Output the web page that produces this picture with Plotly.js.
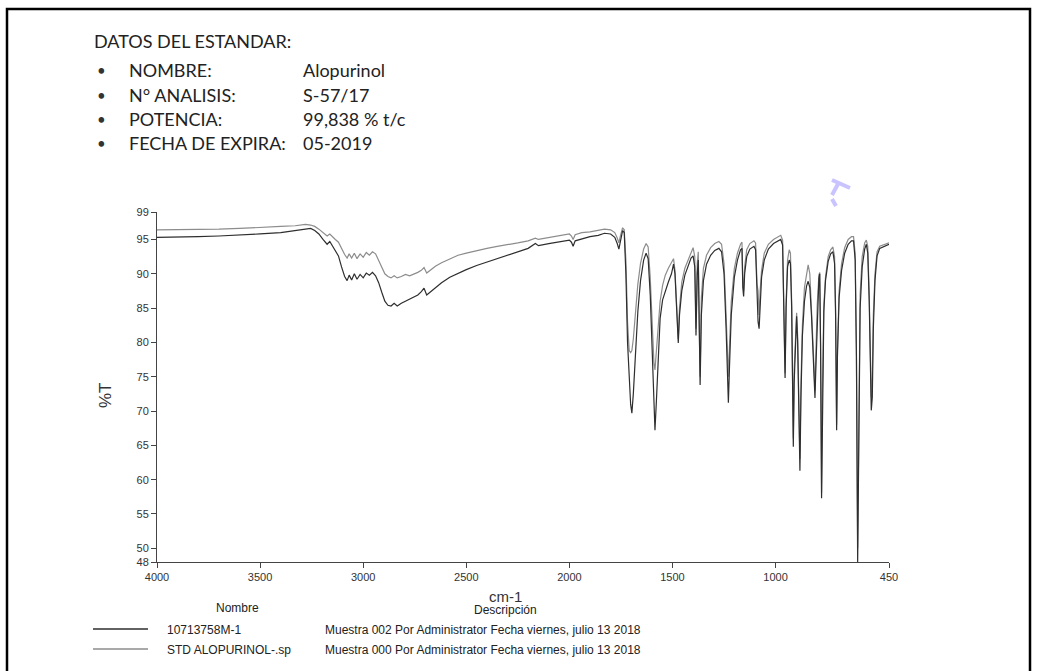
<!DOCTYPE html>
<html><head><meta charset="utf-8">
<script src="https://cdn.plot.ly/plotly-3.0.1.min.js"></script>
<style>html,body{margin:0;padding:0;background:#fff;}#chart{width:1037px;height:671px;}</style>
</head><body><div id="chart"></div>
<script>
const wavenumber = [4000,3900,3800,3700,3600,3500,3400,3330,3280,3255,3235,3215,3195,3175,3162,3150,3135,3120,3105,3090,3078,3068,3056,3043,3030,3015,3000,2985,2970,2955,2940,2925,2910,2895,2880,2865,2850,2835,2815,2795,2775,2755,2735,2718,2705,2692,2675,2650,2620,2580,2540,2500,2450,2400,2350,2300,2250,2200,2165,2150,2100,2050,2000,1990,1982,1972,1940,1900,1860,1830,1800,1780,1768,1760,1752,1742,1734,1726,1718,1710,1703,1697,1690,1680,1668,1655,1640,1628,1618,1608,1598,1590,1585,1578,1570,1560,1548,1535,1520,1505,1495,1488,1480,1472,1466,1455,1440,1425,1410,1400,1392,1386,1380,1375,1370,1366,1360,1350,1335,1315,1295,1275,1262,1250,1240,1233,1229,1224,1215,1200,1185,1170,1163,1159,1155,1150,1140,1125,1105,1097,1090,1085,1080,1075,1068,1055,1035,1010,990,975,966,960,954,949,942,934,928,922,917,914,910,903,898,893,887,882,877,870,860,850,842,834,826,818,812,809,805,798,790,786,782,777,773,766,758,745,733,722,714,709,704,700,692,680,665,648,632,622,614,608,602,597,590,580,568,560,553,546,540,536,531,526,518,508,495,475,460,450];
const sampleT = [95.3,95.3,95.4,95.5,95.6,95.8,96.0,96.3,96.6,96.6,96.3,95.8,95.0,94.3,94.7,94.1,93.5,92.6,91.0,89.6,89.0,89.8,89.1,90.0,89.2,89.9,89.4,90.1,89.8,90.2,89.7,88.7,87.3,86.0,85.4,85.3,85.7,85.3,85.7,86.0,86.2,86.5,86.9,87.4,87.9,86.9,87.3,88.0,88.7,89.5,90.1,90.6,91.2,91.7,92.2,92.6,93.1,93.7,94.4,94.1,94.4,94.7,94.9,94.6,94.0,94.8,95.1,95.4,95.6,95.9,95.8,95.3,94.4,93.6,94.8,96.3,96.0,90.0,80.0,74.0,71.0,69.7,72.5,78.0,84.5,89.0,92.0,93.0,92.2,87.0,78.0,70.5,67.2,71.5,78.0,83.5,86.2,87.5,88.8,90.0,91.4,90.0,84.0,79.9,84.0,87.5,89.8,91.2,92.3,92.6,91.0,81.0,90.0,92.0,80.0,73.8,84.0,89.0,91.4,92.7,93.4,93.7,93.2,90.0,82.0,74.0,71.2,76.0,84.0,89.5,92.0,93.5,93.7,88.0,86.7,90.0,92.5,93.6,94.0,93.5,87.0,83.0,82.0,86.0,89.5,92.0,93.6,94.4,94.8,95.0,94.2,85.0,74.8,85.0,91.0,92.0,91.5,85.0,72.0,64.8,74.0,81.5,83.8,80.0,70.0,61.3,72.0,81.0,86.0,88.2,88.9,88.0,84.0,78.0,73.5,71.9,76.0,84.0,89.3,90.0,80.0,57.3,72.0,84.5,89.0,91.8,92.9,93.2,91.5,84.0,67.2,78.0,86.5,90.5,93.0,94.3,94.8,94.8,92.0,78.0,48.0,70.0,85.0,91.0,93.6,94.3,93.0,86.0,76.0,70.1,72.0,82.0,89.0,92.6,93.7,94.0,94.2,94.3];
const stdT = [96.4,96.4,96.5,96.5,96.6,96.7,96.9,97.0,97.2,97.1,96.9,96.5,96.0,95.5,95.8,95.4,95.0,94.6,93.6,92.8,92.3,92.9,92.3,93.0,92.2,92.9,92.4,93.1,92.7,93.2,92.9,92.0,90.9,90.0,89.6,89.4,89.7,89.4,89.6,89.9,89.7,89.9,90.2,90.5,90.9,90.1,90.5,91.1,91.6,92.2,92.7,93.0,93.4,93.7,94.0,94.2,94.5,94.8,95.2,95.0,95.3,95.6,95.8,95.5,95.0,95.7,96.0,96.1,96.3,96.5,96.4,96.0,95.2,94.5,95.6,96.7,96.4,92.0,83.0,78.8,78.5,78.8,80.5,84.0,88.5,91.5,93.6,94.4,93.9,89.5,82.0,77.0,76.0,78.5,82.5,86.0,88.3,89.8,90.8,91.6,92.2,90.5,84.5,80.5,85.0,88.8,90.8,92.0,93.2,93.8,92.5,82.0,91.5,93.2,82.0,75.0,86.5,90.8,92.7,93.8,94.4,94.7,94.3,91.5,84.0,77.0,75.0,79.0,86.0,90.8,93.0,94.3,94.6,89.0,87.5,91.0,93.5,94.4,94.8,94.5,88.5,87.5,84.0,87.5,90.5,93.0,94.3,95.0,95.4,95.6,94.9,86.0,75.5,86.0,92.0,93.5,93.0,86.0,74.0,66.0,76.0,82.5,84.3,81.0,72.0,63.0,74.0,82.5,88.0,90.3,91.3,90.0,85.5,79.5,75.0,73.0,78.0,85.5,89.8,90.2,80.0,58.0,73.0,85.5,89.5,92.5,93.5,93.9,92.5,85.0,68.0,79.0,87.5,91.5,93.8,95.0,95.4,95.4,93.0,79.0,50.0,72.0,87.0,92.5,94.5,94.9,94.0,87.0,78.0,72.0,75.0,84.0,90.0,93.2,94.0,94.2,94.4,94.5];
const xTickVals = [4000,3500,3000,2500,2000,1500,1000,450];
const yTickVals = [48,50,55,60,65,70,75,80,85,90,95,99];
const headerTitle = "DATOS DEL ESTANDAR:";
const headerLabels = ["NOMBRE:","N° ANALISIS:","POTENCIA:","FECHA DE EXPIRA:"];
const headerValues = ["Alopurinol","S-57/17","99,838 % t/c","05-2019"];
const legendNames = ["10713758M-1","STD ALOPURINOL-.sp"];
const legendDescriptions = ["Muestra 002 Por Administrator Fecha viernes, julio 13 2018","Muestra 000 Por Administrator Fecha viernes, julio 13 2018"];
const traceColors = ["#2e2e2e","#8c8c8c"];

// pixel -> paper helpers (plot area: x 157..889, y 212..562)
const L = 157, R = 889, T = 212, B = 562;
const px = x => (x - L) / (R - L);
const py = y => (B - y) / (B - T);

const headFont = {family: "Lato, 'Open Sans', sans-serif", size: 18, color: "#222"};
const smallFont = {family: "'Liberation Sans', Arial, sans-serif", size: 12, color: "#222"};

const annotations = [];
function txt(text, x, y, font, xanchor) {
  annotations.push({text: text, x: px(x), y: py(y), xref: "paper", yref: "paper",
    xanchor: xanchor || "left", yanchor: "middle", showarrow: false, font: font});
}
txt(headerTitle, 92, 41, headFont);
const rowY = [70, 95, 119, 143];
headerLabels.forEach((lab, i) => {
  txt("•", 95, rowY[i], {family: headFont.family, size: 15, color: "#333"});
  txt(lab, 127, rowY[i], headFont);
  txt(headerValues[i], 301, rowY[i], headFont);
});
txt("%T", 105, 395, {family: "'Liberation Sans', Arial, sans-serif", size: 17, color: "#333"}, "center");
annotations[annotations.length - 1].textangle = -90;
txt("cm-1", 505, 596, {family: "'Liberation Sans', Arial, sans-serif", size: 15, color: "#333"}, "center");
txt("Nombre", 237, 608, smallFont, "center");
txt("Descripción", 505, 610, smallFont, "center");
legendNames.forEach((n, i) => {
  txt(n, 165, 630 + i * 20, smallFont);
  txt(legendDescriptions[i], 323, 630 + i * 20, smallFont);
});

const shapes = [
  {type: "line", xref: "paper", yref: "paper", x0: px(93), x1: px(148), y0: py(629), y1: py(629), line: {color: traceColors[0], width: 1.3}},
  {type: "line", xref: "paper", yref: "paper", x0: px(93), x1: px(148), y0: py(649), y1: py(649), line: {color: traceColors[1], width: 1.3}},
  {type: "rect", xref: "paper", yref: "paper", x0: px(7), x1: px(1030), y0: py(9), y1: py(690), line: {color: "#000", width: 2.5}},
  {type: "path", xref: "paper", yref: "paper", path: `M ${px(832)} ${py(180)} L ${px(850)} ${py(188)} M ${px(838)} ${py(184)} L ${px(832)} ${py(195)} M ${px(832)} ${py(199)} L ${px(836)} ${py(206)}`, line: {color: "#c9c3ff", width: 4}}
];

const data = [
  {x: wavenumber, y: stdT, type: "scatter", mode: "lines", name: legendNames[1], line: {color: traceColors[1], width: 1.2}},
  {x: wavenumber, y: sampleT, type: "scatter", mode: "lines", name: legendNames[0], line: {color: traceColors[0], width: 1.2}}
];

const axisFont = {family: "'Liberation Sans', Arial, sans-serif", size: 11, color: "#333"};
const layout = {
  width: 1037, height: 671,
  margin: {l: L, r: 1037 - R, t: T, b: 671 - B, pad: 0},
  paper_bgcolor: "#fff", plot_bgcolor: "#fff",
  showlegend: false,
  xaxis: {range: [4000, 450], tickvals: xTickVals, ticktext: xTickVals.map(String), ticks: "outside", ticklen: 5,
    tickcolor: "#444", showline: true, linecolor: "#444", linewidth: 1, showgrid: false, zeroline: false,
    tickfont: axisFont, ticklabelstandoff: 0},
  yaxis: {range: [48, 99], tickvals: yTickVals, ticktext: yTickVals.map(String), ticks: "outside", ticklen: 5,
    tickcolor: "#444", showline: true, linecolor: "#444", linewidth: 1, showgrid: false, zeroline: false,
    tickfont: axisFont},
  annotations: annotations,
  shapes: shapes
};
Plotly.newPlot("chart", data, layout, {displayModeBar: false, staticPlot: true});
</script>
</body></html>
